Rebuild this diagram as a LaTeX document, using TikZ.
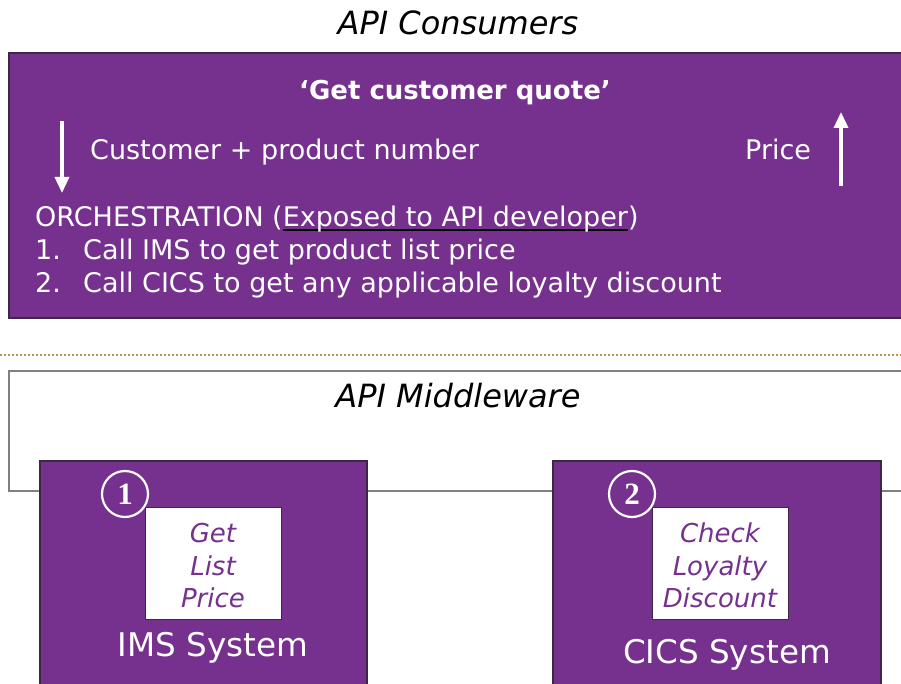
\documentclass[tikz,border=0pt]{standalone}
\usepackage{fontspec}
\usepackage{calc}
\setmainfont{DejaVu Sans}
\newfontfamily\numfont{Liberation Serif}
\usetikzlibrary{arrows.meta}
\definecolor{vpurple}{RGB}{118,49,142}
\definecolor{vborder}{RGB}{60,40,70}
\definecolor{dashcol}{RGB}{190,150,80}
\tikzset{
  txt/.style={inner sep=0pt, anchor=base west, text=white, font=\fontsize{27}{32}\selectfont},
  ctxt/.style={inner sep=0pt, anchor=base, text=white, font=\fontsize{26}{32}\selectfont},
  head/.style={inner sep=0pt, anchor=base, text=black, font=\fontsize{32}{38}\selectfont\itshape},
  sysbox/.style={fill=vpurple, draw=vborder, line width=1.2pt},
  funcbox/.style={fill=white, draw=vborder, line width=1pt},
  functxt/.style={inner sep=0pt, anchor=base, text=vpurple, font=\fontsize{26}{32}\selectfont\itshape},
  systxt/.style={inner sep=0pt, anchor=base, text=white, font=\fontsize{32.6}{38}\selectfont},
  numcirc/.style={circle, draw=white, line width=2.2pt, minimum size=46pt, inner sep=0pt, text=white, font=\fontsize{31}{34}\selectfont\numfont\bfseries},
  flow/.style={draw=white, line width=3.5pt, -{Triangle[width=14pt,length=16pt]}}
}
\begin{document}
\begin{tikzpicture}[x=1pt,y=-1pt]
\useasboundingbox (0,0) rectangle (901,684);
% API consumers
\node[head] (hcons) at (458,35) {API Consumers};
\path[fill=vpurple, draw=vborder, line width=1.2pt] (9,53) rectangle (905,318);
\node[ctxt, font=\fontsize{26}{32}\selectfont\bfseries] (title) at (455,100) {‘Get customer quote’};
\coordinate (dtop) at (62,121);
\coordinate (dbot) at (62,193);
\draw[flow] (dtop) -- (dbot);
\node[txt] (cust) at (90,160) {Customer + product number};
\node[txt] (price) at (745,160) {Price};
\coordinate (ubot) at (841,186);
\coordinate (utop) at (841,112);
\draw[flow] (ubot) -- (utop);
\node[txt] (orch) at (35,227) {ORCHESTRATION (\rlap{\textcolor{black}{\rule[-4pt]{\widthof{Exposed to API developer}}{2pt}}}Exposed to API developer)};
\node[txt] (n1) at (35,260) {1.};
\node[txt] (s1) at (83,260) {Call IMS to get product list price};
\node[txt] (n2) at (35,292) {2.};
\node[txt] (s2) at (83,292) {Call CICS to get any applicable loyalty discount};
% separator
\coordinate (sepl) at (0,355);
\coordinate (sepr) at (901,355);
\draw[dashcol, line width=1.3pt, dash pattern=on 2pt off 2pt] (sepl) -- (sepr);
% API middleware
\path[fill=white, draw=gray, line width=1.2pt] (9,371) rectangle (905,491);
\node[head] (hmid) at (458,407) {API Middleware};
% IMS system
\path[sysbox] (40,461) rectangle (367,690);
\path[funcbox] (145,507) rectangle (281,619);
\node[functxt] (g1) at (213,542) {Get};
\node[functxt] (g2) at (213,575) {List};
\node[functxt] (g3) at (213,607) {Price};
\node[numcirc] (c1) at (125,494) {1};
\node[systxt] (ims) at (213,656) {IMS System};
% CICS system
\path[sysbox] (553,461) rectangle (881,690);
\path[funcbox] (652,507) rectangle (788,619);
\node[functxt] (k1) at (720,542) {Check};
\node[functxt] (k2) at (720,575) {Loyalty};
\node[functxt] (k3) at (720,607) {Discount};
\node[numcirc] (c2) at (632,494) {2};
\node[systxt] (cics) at (727,663) {CICS System};
\end{tikzpicture}
\end{document}
